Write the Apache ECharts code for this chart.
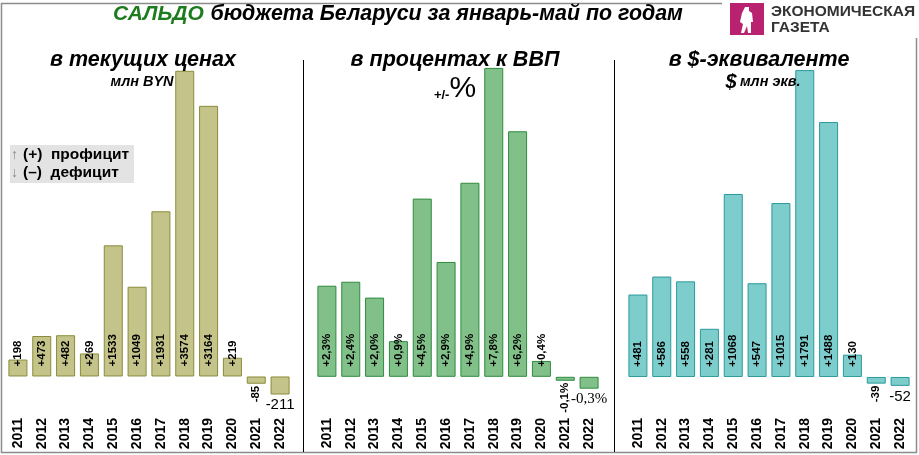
<!DOCTYPE html>
<html>
<head>
<meta charset="utf-8">
<script src="https://cdn.jsdelivr.net/npm/echarts@6/dist/echarts.min.js"></script>
<style>
  html, body { margin: 0; padding: 0; background: #fff; }
  #chart { width: 919px; height: 455px; }
</style>
</head>
<body>
<div id="chart"></div>
<script>
// budget balance, January-May, by year
const years = ['2011', '2012', '2013', '2014', '2015', '2016', '2017', '2018', '2019', '2020', '2021', '2022'];
const byn = [198, 473, 482, 269, 1533, 1049, 1931, 3574, 3164, 219, -85, -211];
const gdpPct = [2.3, 2.4, 2.0, 0.9, 4.5, 2.9, 4.9, 7.8, 6.2, 0.4, -0.1, -0.3];
const usd = [481, 586, 558, 281, 1068, 547, 1015, 1791, 1488, 130, -39, -52];

const FONT = 'Liberation Sans, Arial, sans-serif';

function fmtInt(v) {
  return (v > 0 ? '+' : '') + v;
}
function fmtPct(v) {
  return (v > 0 ? '+' : '') + v.toFixed(1).replace('.', ',') + '%';
}

// negative values: 2021 label rotated under the bar, 2022 label flat
function buildData(values, flatFont) {
  return values.map((v, i) => {
    if (v >= 0) return v;
    if (i === values.length - 1) {
      return {
        value: v,
        label: {
          position: 'bottom', rotate: 0, align: 'center', verticalAlign: 'top',
          distance: 3, fontWeight: 'normal', fontSize: 15, fontFamily: flatFont
        }
      };
    }
    return {
      value: v,
      label: { position: 'bottom', rotate: 90, align: 'right', verticalAlign: 'middle', distance: 2 }
    };
  });
}

function barSeries(idx, values, fmt, fill, border, flatFont) {
  return {
    type: 'bar',
    xAxisIndex: idx,
    yAxisIndex: idx,
    barWidth: 19,
    data: buildData(values, flatFont),
    itemStyle: { color: fill, borderColor: border, borderWidth: 1 },
    label: {
      show: true,
      position: 'insideBottom',
      distance: 10,
      rotate: 90,
      align: 'left',
      verticalAlign: 'middle',
      color: '#000',
      fontWeight: 'bold',
      fontSize: 11.5,
      fontFamily: FONT,
      formatter: p => fmt(p.value)
    },
    silent: true,
    animation: false
  };
}

function xAx(idx) {
  return {
    type: 'category',
    gridIndex: idx,
    data: years,
    position: 'bottom',
    axisLine: { show: false },
    axisTick: { show: false },
    axisLabel: {
      rotate: 90, margin: 21, interval: 0,
      color: '#000', fontWeight: 'bold', fontSize: 14, fontFamily: FONT
    }
  };
}
function yAx(idx, min, max) {
  return { type: 'value', gridIndex: idx, min: min, max: max, show: false, splitLine: { show: false } };
}

const chart = echarts.init(document.getElementById('chart'));

const titleStyle = { fontFamily: FONT, fontWeight: 'bold', fontStyle: 'italic', fill: '#000' };

chart.setOption({
  animation: false,
  grid: [
    { left: 6, top: 60, width: 286, height: 337 },
    { left: 315, top: 60, width: 286, height: 337 },
    { left: 626, top: 60, width: 286, height: 337 }
  ],
  xAxis: [xAx(0), xAx(1), xAx(2)],
  yAxis: [yAx(0, -240, 3700), yAx(1, -0.51, 8.0), yAx(2, -117, 1850)],
  series: [
    barSeries(0, byn, fmtInt, '#c4c48a', '#8b8b3a', 'Liberation Sans Narrow, Arial Narrow, sans-serif'),
    barSeries(1, gdpPct, fmtPct, '#82c08a', '#2e8b3e', 'Liberation Serif, Times New Roman, serif'),
    barSeries(2, usd, fmtInt, '#7ecdcd', '#2b9a9a', 'Liberation Sans Narrow, Arial Narrow, sans-serif')
  ],
  graphic: [
    // frame
    { type: 'rect', z: -10, shape: { x: 1.5, y: 3.5, width: 915, height: 449 }, style: { fill: 'none', stroke: '#8c8c8c', lineWidth: 1.5 } },
    // dividers
    { type: 'line', shape: { x1: 303.5, y1: 60, x2: 303.5, y2: 452 }, style: { stroke: '#000', lineWidth: 1 } },
    { type: 'line', shape: { x1: 614.5, y1: 60, x2: 614.5, y2: 452 }, style: { stroke: '#000', lineWidth: 1 } },
    // title
    {
      type: 'text', x: 113, y: 4, z: 100,
      style: {
        text: '{g|САЛЬДО}  {b|бюджета Беларуси за январь-май по годам}',
        rich: {
          g: { fontFamily: FONT, fontWeight: 'bold', fontStyle: 'italic', fontSize: 21, fill: '#1e7b1e' },
          b: { fontFamily: FONT, fontWeight: 'bold', fontStyle: 'italic', fontSize: 21.4, fill: '#000' }
        }
      }
    },
    // logo
    { type: 'rect', z: 5, shape: { x: 722, y: 0, width: 197, height: 38 }, style: { fill: '#fff' } },
    { type: 'rect', z: 6, shape: { x: 730, y: 3, width: 34, height: 32 }, style: { fill: '#b8226f' } },
    {
      type: 'polygon', z: 7,
      shape: { points: [[745, 7], [749, 7], [749, 11], [752, 13], [753, 22], [751, 22], [751, 33], [748, 33], [747, 26], [744, 33], [741, 33], [743, 24], [740, 22], [742, 13]] },
      style: { fill: '#fff' }
    },
    { type: 'text', z: 7, x: 771, y: 4, style: { text: 'ЭКОНОМИЧЕСКАЯ', fontFamily: FONT, fontWeight: 'bold', fontSize: 15.5, fill: '#333' } },
    { type: 'text', z: 7, x: 771, y: 20, style: { text: 'ГАЗЕТА', fontFamily: FONT, fontWeight: 'bold', fontSize: 15.5, fill: '#333' } },
    // panel subtitles (drawn over the tall bars)
    { type: 'text', z: 100, x: 143, y: 60, style: Object.assign({ text: 'в текущих ценах', fontSize: 21.5, align: 'center', verticalAlign: 'middle' }, titleStyle) },
    { type: 'text', z: 100, x: 142, y: 82, style: Object.assign({ text: 'млн BYN', fontSize: 14.5, align: 'center', verticalAlign: 'middle' }, titleStyle) },
    { type: 'text', z: 100, x: 455, y: 60, style: Object.assign({ text: 'в процентах к ВВП', fontSize: 21.5, align: 'center', verticalAlign: 'middle' }, titleStyle) },
    {
      type: 'text', z: 100, x: 455, y: 89,
      style: {
        text: '{s|+/-}{p|%}', align: 'center', verticalAlign: 'middle',
        rich: {
          s: { fontFamily: FONT, fontWeight: 'bold', fontSize: 13, fill: '#000', padding: [12, 0, 0, 0] },
          p: { fontFamily: FONT, fontSize: 30, fill: '#000' }
        }
      }
    },
    { type: 'text', z: 100, x: 759, y: 60, style: Object.assign({ text: 'в $-эквиваленте', fontSize: 21.5, align: 'center', verticalAlign: 'middle' }, titleStyle) },
    {
      type: 'text', z: 100, x: 763, y: 82,
      style: {
        text: '{d|$} {t|млн экв.}', align: 'center', verticalAlign: 'middle',
        rich: {
          d: { fontFamily: FONT, fontWeight: 'bold', fontStyle: 'italic', fontSize: 20, fill: '#000' },
          t: { fontFamily: FONT, fontWeight: 'bold', fontStyle: 'italic', fontSize: 14.5, fill: '#000' }
        }
      }
    },
    // legend box
    { type: 'rect', shape: { x: 10, y: 145, width: 124, height: 38 }, style: { fill: '#e3e3e3' } },
    {
      type: 'text', x: 11, y: 146,
      style: {
        text: '{a|↑}{t|(+)  профицит}\n{a|↓}{t|(–)  дефицит}',
        rich: {
          a: { fontFamily: FONT, fontSize: 14, fill: '#888', lineHeight: 18, width: 12 },
          t: { fontFamily: FONT, fontWeight: 'bold', fontSize: 15.5, fill: '#000', lineHeight: 18 }
        }
      }
    }
  ]
});
</script>
</body>
</html>
